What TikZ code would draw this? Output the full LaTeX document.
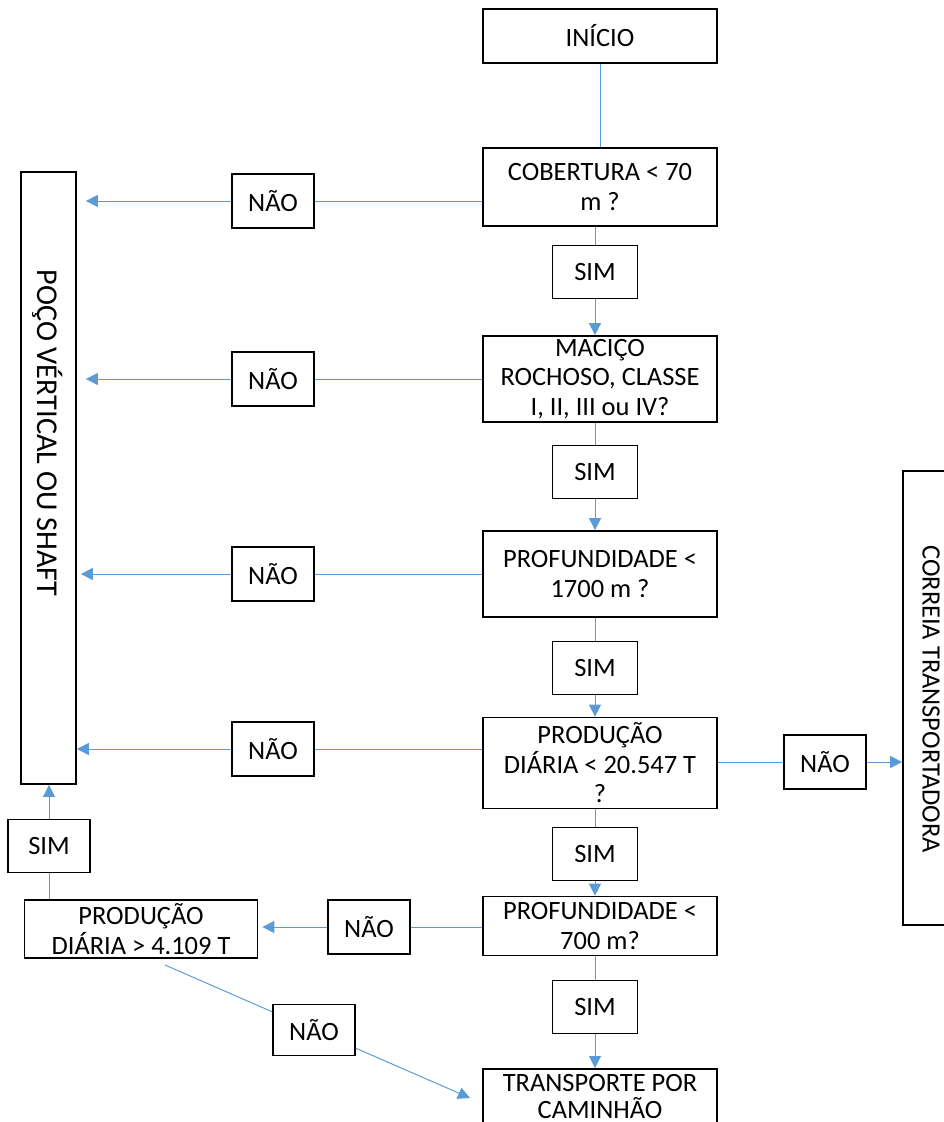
\documentclass[tikz,border=0pt]{standalone}
\usepackage{fontspec}
\setmainfont{Carlito}
\usetikzlibrary{arrows.meta, positioning}
\definecolor{linkblue}{RGB}{91,155,213}

\begin{document}
\begin{tikzpicture}[
    x = 0.025cm, y = -0.025cm,
    font = \fontsize{18.8}{21}\selectfont,
    box/.style = {rectangle, draw, line width=1.2pt, align=center, inner sep=0pt, minimum width=5.85cm},
    simbox/.style = {rectangle, draw, line width=1.2pt, inner sep=0pt, minimum width=2.125cm, minimum height=1.33cm},
    naobox/.style = {rectangle, draw, line width=1.2pt, inner sep=0pt, minimum width=2.05cm, minimum height=1.35cm},
    tallbox/.style = {rectangle, draw, line width=1.2pt, inner sep=0pt, minimum width=1.375cm},
    line/.style = {draw=linkblue, line width=0.7pt},
    arrow/.style = {line, -{Triangle[length=0.3cm, width=0.3cm]}}
]
\useasboundingbox (0,0) rectangle (944,1122);

% Define nodes
\node[box, minimum height=1.35cm] (inicio) at (600,36) {INÍCIO};
\node[box, minimum height=1.95cm] (cobertura) at (600,187) {COBERTURA < 70\\m ?};
\node[box, minimum height=2.15cm] (macico) at (600,379) {MACIÇO\\ROCHOSO, CLASSE\\I, II, III ou IV?};
\node[box, minimum height=2.15cm] (profund) at (600,574) {PROFUNDIDADE <\\1700 m ?};
\node[box, minimum height=2.275cm] (producao) at (600,763) {PRODUÇÃO\\DIÁRIA < 20.547 T\\?};
\node[box, minimum height=1.475cm] (profund2) at (600,926) {PROFUNDIDADE <\\700 m?};
\node[box, minimum height=1.4cm, anchor=north, font=\fontsize{18.8}{19.2}\selectfont] (transporte) at (600,1068) {TRANSPORTE POR\\CAMINHÃO};
\node[box, minimum width=5.825cm, minimum height=1.45cm] (producao2) at (141,929) {PRODUÇÃO\\DIÁRIA > 4.109 T};

\node[simbox] (sim1) at (595,272) {SIM};
\node[simbox] (sim2) at (595,472) {SIM};
\node[simbox] (sim3) at (595,668) {SIM};
\node[simbox] (sim4) at (595,854) {SIM};
\node[simbox] (sim5) at (595,1007) {SIM};
\node[simbox, minimum width=2.05cm] (sim6) at (49,846) {SIM};

\node[naobox] (nao1) at (273,201) {NÃO};
\node[naobox] (nao2) at (273,379) {NÃO};
\node[naobox] (nao3) at (273,574) {NÃO};
\node[naobox] (nao4) at (273,749) {NÃO};
\node[naobox] (nao5) at (825,762) {NÃO};
\node[naobox] (nao6) at (369,927) {NÃO};
\node[naobox, minimum height=1.28cm] (nao7) at (314,1030) {NÃO};

\node[tallbox, minimum height=15.3cm] (poco) at (48.5,478) {};
\node[rotate=-90, font=\fontsize{21.5}{24}\selectfont] (pocotxt) at (48,433) {POÇO VÉRTICAL OU SHAFT};
\node[tallbox, minimum height=11.35cm] (correia) at (930.5,698) {};
\node[rotate=-90] (correiatxt) at (931,699) {CORREIA TRANSPORTADORA};

\coordinate (saida) at (165,965);
\coordinate (chegada) at (470,1098);

% Draw arrows
\draw[line] (inicio) -- (inicio |- cobertura.north);
\draw[line] (cobertura.south -| sim1) -- (sim1);
\draw[arrow] (sim1) -- (sim1 |- macico.north);
\draw[line] (macico.south -| sim2) -- (sim2);
\draw[arrow] (sim2) -- (sim2 |- profund.north);
\draw[line] (profund.south -| sim3) -- (sim3);
\draw[arrow] (sim3) -- (sim3 |- producao.north);
\draw[line] (producao.south -| sim4) -- (sim4);
\draw[arrow] (sim4) -- (sim4 |- profund2.north);
\draw[line] (profund2.south -| sim5) -- (sim5);
\draw[arrow] (sim5) -- (sim5 |- transporte.north);

\draw[line] (cobertura.west |- nao1) -- (nao1);
\draw[arrow, shorten >=0.225cm] (nao1) -- (nao1 -| poco.east);
\draw[line] (macico.west |- nao2) -- (nao2);
\draw[arrow, shorten >=0.225cm] (nao2) -- (nao2 -| poco.east);
\draw[line] (profund.west |- nao3) -- (nao3);
\draw[arrow, shorten >=0.1cm] (nao3) -- (nao3 -| poco.east);
\draw[line] (producao.west |- nao4) -- (nao4);
\draw[arrow] (nao4) -- (nao4 -| poco.east);

\draw[line] (producao.east |- nao5) -- (nao5);
\draw[arrow] (nao5) -- (nao5 -| correia.west);

\draw[line] (profund2.west |- nao6) -- (nao6);
\draw[arrow, shorten >=0.1cm] (nao6) -- (nao6 -| producao2.east);
\draw[line] (producao2.north -| sim6) -- (sim6);
\draw[arrow] (sim6) -- (sim6 |- poco.south);

\draw[line] (saida) -- (nao7);
\draw[arrow] (nao7) -- (chegada);

\end{tikzpicture}
\end{document}
